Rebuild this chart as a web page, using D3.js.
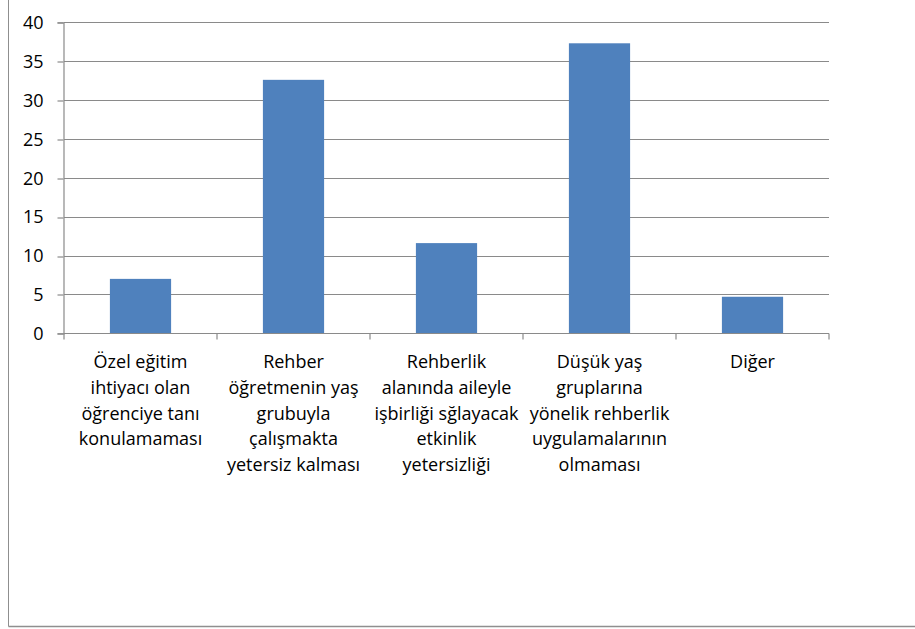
<!DOCTYPE html>
<html>
<head>
<meta charset="utf-8">
<script src="https://cdn.jsdelivr.net/npm/d3@7/dist/d3.min.js"></script>
<style>
  html, body { margin: 0; padding: 0; background: #fff; }
  svg { display: block; }
  text { font-family: "Open Sans", Lato, sans-serif; fill: #000; font-variant-ligatures: none; }
</style>
</head>
<body>
<svg id="chart" width="915" height="629"></svg>
<script>
// ---- data ----
const categories = [
  "Özel eğitim ihtiyacı olan öğrenciye tanı konulamaması",
  "Rehber öğretmenin yaş grubuyla çalışmakta yetersiz kalması",
  "Rehberlik alanında aileyle işbirliği sğlayacak etkinlik yetersizliği",
  "Düşük yaş gruplarına yönelik rehberlik uygulamalarının olmaması",
  "Diğer"
];
const labelLines = [
  ["Özel eğitim", "ihtiyacı olan", "öğrenciye tanı", "konulamaması"],
  ["Rehber", "öğretmenin yaş", "grubuyla", "çalışmakta", "yetersiz kalması"],
  ["Rehberlik", "alanında aileyle", "işbirliği sğlayacak", "etkinlik", "yetersizliği"],
  ["Düşük yaş", "gruplarına", "yönelik rehberlik", "uygulamalarının", "olmaması"],
  ["Diğer"]
];
const values = [7.0, 32.6, 11.6, 37.3, 4.7];
const yTicks = [0, 5, 10, 15, 20, 25, 30, 35, 40];

// ---- layout ----
const svg = d3.select("#chart");
const pLeft = 64, pRight = 829, pTop = 22.3, pBottom = 333.3;
const gridColor = "#8a8a8a";
const barColor = "#4F81BD";
const fontSize = 18;

// outer frame (left and bottom edges visible)
svg.append("line").attr("x1", 8.5).attr("x2", 8.5).attr("y1", 0).attr("y2", 626.5)
  .attr("stroke", "#8f8f8f").attr("stroke-width", 1);
svg.append("line").attr("x1", 8.5).attr("x2", 915).attr("y1", 626.5).attr("y2", 626.5)
  .attr("stroke", "#8f8f8f").attr("stroke-width", 1.5);

const x = d3.scaleBand().domain(categories).range([pLeft, pRight]).paddingInner(0.6).paddingOuter(0.3);
const xb = d3.scaleBand().domain(categories).range([pLeft, pRight]).padding(0);
const y = d3.scaleLinear().domain([0, 40]).range([pBottom, pTop]);

// gridlines
svg.append("g").selectAll("line").data(yTicks.filter(d => d > 0)).join("line")
  .attr("x1", pLeft).attr("x2", pRight)
  .attr("y1", d => Math.round(y(d)) + 0.5).attr("y2", d => Math.round(y(d)) + 0.5)
  .attr("stroke", gridColor).attr("stroke-width", 1.2);

// bars
svg.append("g").selectAll("rect").data(values).join("rect")
  .attr("x", (d, i) => x(categories[i]))
  .attr("width", x.bandwidth())
  .attr("y", d => y(d))
  .attr("height", d => y(0) - y(d))
  .attr("fill", barColor);

// y axis
const yAxis = d3.axisLeft(y).tickValues(yTicks).tickSize(6).tickPadding(14).tickFormat(d3.format("d"));
const gy = svg.append("g").attr("transform", `translate(${Math.round(pLeft) - 0.5},0)`).call(yAxis);
gy.select(".domain").attr("stroke", gridColor).attr("stroke-width", 1.2);
gy.selectAll(".tick line").attr("stroke", gridColor).attr("stroke-width", 1.2)
  .attr("transform", function(d){ return `translate(0,${Math.round(y(d)) + 0.5 - y(d)})`; });
gy.selectAll(".tick text").attr("font-size", fontSize).attr("font-family", "'Open Sans', Lato, sans-serif")
  .attr("fill", "#000").attr("dy", "0.35em");

// x axis baseline + boundary ticks
const bx = Math.round(pBottom) + 0.5;
svg.append("line").attr("x1", pLeft).attr("x2", pRight).attr("y1", bx).attr("y2", bx)
  .attr("stroke", gridColor).attr("stroke-width", 1.2);
const boundaries = categories.map(c => xb(c)).concat([xb(categories[categories.length - 1]) + xb.bandwidth()]);
svg.append("g").selectAll("line").data(boundaries).join("line")
  .attr("x1", d => d).attr("x2", d => d).attr("y1", bx).attr("y2", bx + 6)
  .attr("stroke", gridColor).attr("stroke-width", 1.2);

// category labels
const lbl = svg.append("g").selectAll("text").data(categories).join("text")
  .attr("text-anchor", "middle")
  .attr("font-size", fontSize)
  .attr("transform", c => `translate(${xb(c) + xb.bandwidth() / 2},368)`);
lbl.selectAll("tspan").data((c, i) => labelLines[i]).join("tspan")
  .attr("x", 0).attr("dy", (d, j) => j === 0 ? 0 : 25.8)
  .text(d => d);
</script>
</body>
</html>
